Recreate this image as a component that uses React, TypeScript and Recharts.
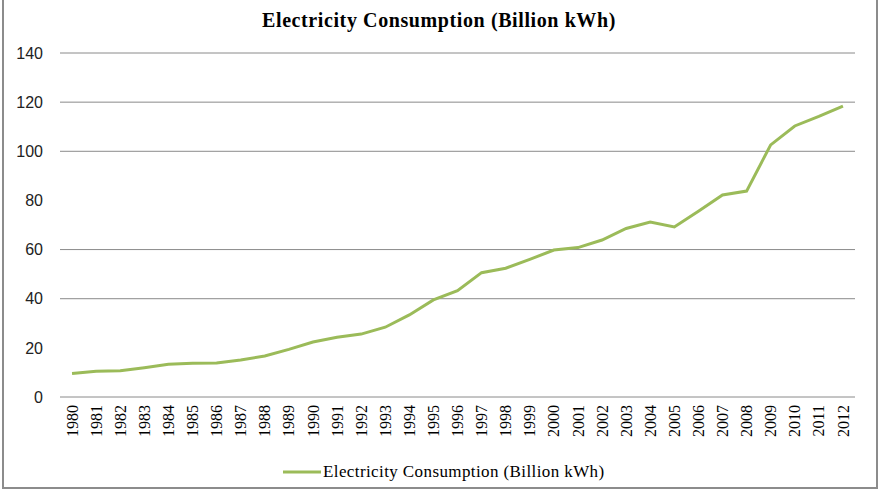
import { LineChart, Line, XAxis, YAxis, ReferenceLine, Legend } from "recharts"

const years = [
  "1980", "1981", "1982", "1983", "1984", "1985", "1986", "1987", "1988", "1989",
  "1990", "1991", "1992", "1993", "1994", "1995", "1996", "1997", "1998", "1999",
  "2000", "2001", "2002", "2003", "2004", "2005", "2006", "2007", "2008", "2009",
  "2010", "2011", "2012",
]

const consumption = [
  9.6, 10.5, 10.7, 11.9, 13.3, 13.7, 13.8, 15.1, 16.7, 19.4,
  22.4, 24.3, 25.6, 28.4, 33.4, 39.5, 43.3, 50.6, 52.4, 56.0,
  59.8, 60.8, 63.9, 68.6, 71.2, 69.2, 75.6, 82.2, 83.8, 102.6,
  110.3, 114.2, 118.4,
]

const yTicks = [0, 20, 40, 60, 80, 100, 120, 140]
// gridlines visible in the source (20 and 80 are not drawn there)
const gridValues = [40, 60, 100, 120, 140]

const seriesName = "Electricity Consumption (Billion kWh)"

const data = years.map((year, i) => ({ year, value: consumption[i] }))

const GREEN = "#9bbb59"
const GRID = "#8a8a8a"
const SERIF = "'Liberation Serif', 'Times New Roman', serif"
const SANS = "'Liberation Sans', Arial, sans-serif"

function YearTick({ x, y, payload }: any) {
  return (
    <text
      x={x}
      y={y}
      transform={`rotate(-90, ${x}, ${y})`}
      textAnchor="end"
      dy="0.35em"
      fontFamily={SERIF}
      fontSize={16}
      fill="#000"
    >
      {payload.value}
    </text>
  )
}

function LegendContent() {
  return (
    <div style={{ display: "flex", alignItems: "center", marginLeft: 283, height: 49 }}>
      <svg width={38} height={10}>
        <line x1={0} y1={5} x2={38} y2={5} stroke={GREEN} strokeWidth={3} />
      </svg>
      <span
        style={{ fontFamily: SERIF, fontSize: 17, letterSpacing: 0.4, color: "#000", marginLeft: 2 }}
      >
        {seriesName}
      </span>
    </div>
  )
}

export default function App() {
  return (
    <div style={{ position: "absolute", left: 0, top: 0, width: 883, height: 496, background: "#fff" }}>
      <div
        style={{
          position: "absolute",
          left: 2,
          top: -2,
          width: 872,
          height: 487,
          border: "2px solid #8c8c8c",
        }}
      />
      <div
        style={{
          position: "absolute",
          left: 0,
          top: 9,
          width: 878,
          textAlign: "center",
          fontFamily: SERIF,
          fontWeight: "bold",
          fontSize: 20,
          letterSpacing: 0.6,
          color: "#000",
        }}
      >
        Electricity Consumption (Billion kWh)
      </div>
      <div style={{ position: "absolute", left: 0, top: 0 }}>
        <LineChart
          width={883}
          height={496}
          data={data}
          margin={{ top: 53, right: 28, left: 0, bottom: 0 }}
        >
          {gridValues.map((v) => (
            <ReferenceLine key={v} y={v} stroke={GRID} strokeWidth={1} ifOverflow="extendDomain" />
          ))}
          <XAxis
            dataKey="year"
            scale="band"
            interval={0}
            height={50}
            tickLine={false}
            axisLine={{ stroke: GRID, strokeWidth: 1 }}
            tick={<YearTick />}
          />
          <YAxis
            width={60}
            domain={[0, 140]}
            ticks={yTicks}
            axisLine={false}
            tickLine={false}
            tickSize={0}
            tickMargin={17}
            tick={{ fontFamily: SANS, fontSize: 16, fill: "#222" }}
          />
          <Legend verticalAlign="bottom" height={49} content={<LegendContent />} />
          <Line
            type="linear"
            dataKey="value"
            name={seriesName}
            stroke={GREEN}
            strokeWidth={3}
            dot={false}
            isAnimationActive={false}
          />
        </LineChart>
      </div>
    </div>
  )
}
